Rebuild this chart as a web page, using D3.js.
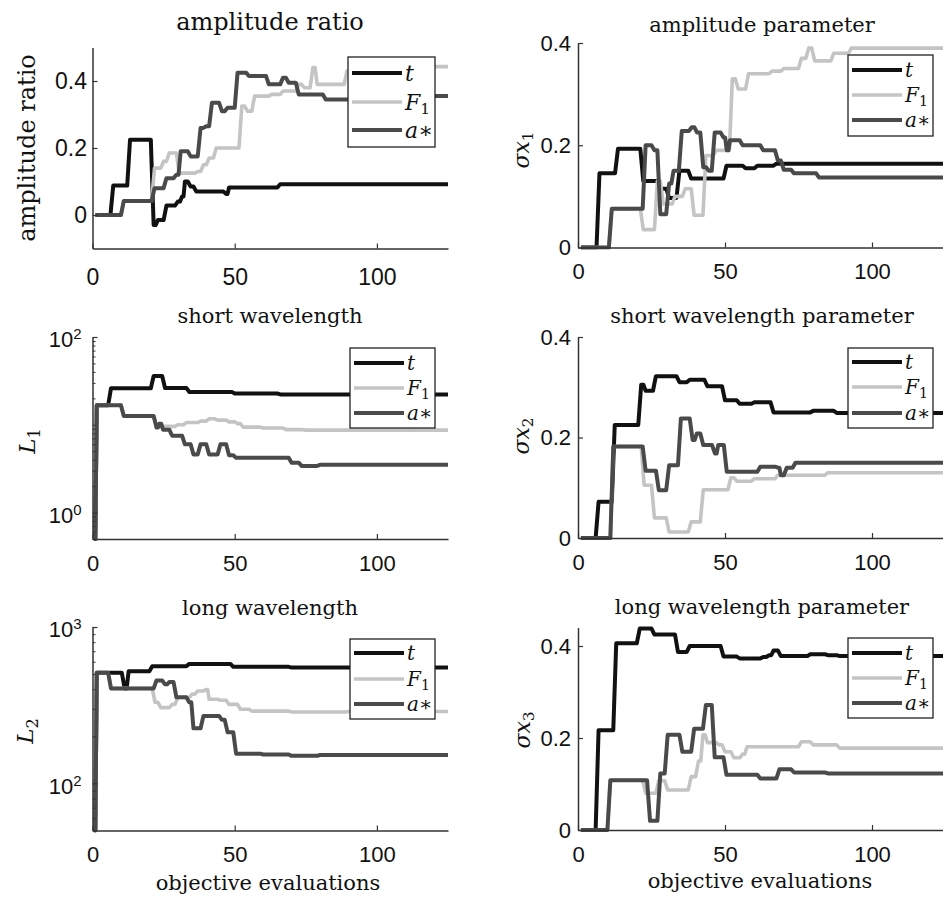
<!DOCTYPE html>
<html><head><meta charset="utf-8">
<script src="https://cdn.jsdelivr.net/npm/d3@7"></script>
<style>body{margin:0;background:#fff;} svg{display:block;}</style>
</head><body>
<svg id="chart" width="943" height="898"></svg>
<script>
// ---------- data ----------
const xTicks = [0, 50, 100];
const seriesNames = ["t", "F1", "a*"];

// amplitude ratio
const ampRatio_t  = [[1,0],[7.3,0.088],[13.2,0.225],[21.5,-0.03],[23,-0.015],[26,0.028],[30,0.04],[31.5,0.055],[32.5,0.1],[34.5,0.085],[36.5,0.07],[47,0.063],[48,0.082],[66,0.092]];
const ampRatio_F1 = [[1,0],[11,0.042],[21.8,0.14],[25,0.16],[27,0.185],[30.5,0.125],[37,0.13],[39,0.15],[41,0.17],[43.5,0.2],[52.5,0.325],[54.5,0.31],[57,0.355],[63,0.36],[67,0.37],[72.5,0.39],[74.5,0.38],[77.5,0.44],[79,0.39],[89.5,0.43],[95,0.443]];
const ampRatio_a  = [[1,0],[11,0.042],[21.8,0.08],[26,0.11],[29.5,0.12],[31,0.19],[34.5,0.175],[38,0.26],[40,0.265],[42,0.335],[45.5,0.31],[47.5,0.32],[51,0.425],[55,0.415],[62,0.39],[67,0.41],[69,0.395],[72.5,0.36],[82,0.345],[95,0.355]];

// amplitude parameter
const ampParam_t  = [[1,0],[7.3,0.145],[13.6,0.193],[22.2,0.13],[28,0.115],[31,0.097],[34.5,0.15],[38.5,0.135],[50.5,0.16],[57,0.155],[61,0.16],[67.5,0.164]];
const ampParam_F1 = [[1,0],[11.5,0.076],[22.2,0.035],[27,0.13],[29,0.085],[33,0.1],[36.5,0.115],[39.5,0.063],[43.5,0.18],[47,0.19],[52.5,0.33],[54.5,0.31],[58,0.34],[66,0.345],[70,0.35],[76,0.37],[78.5,0.39],[80.5,0.365],[87,0.38],[93,0.39]];
const ampParam_a  = [[1,0],[11.5,0.076],[23,0.2],[26,0.19],[28,0.065],[31,0.125],[32.5,0.15],[35.3,0.228],[38.7,0.235],[40.5,0.225],[42.6,0.157],[44.5,0.15],[46.5,0.225],[49.5,0.215],[50.6,0.19],[51.7,0.21],[56,0.2],[63,0.19],[68,0.17],[70,0.152],[73.5,0.145],[82,0.137]];

// short wavelength (log)
const shortL_t  = [[0.5,0.5],[1.5,16.7],[6.5,26],[21.5,36],[25.5,26.3],[34,23.7],[50,22.7],[66,22.2]];
const shortL_F1 = [[0.5,0.5],[1.5,16.7],[11,12.6],[22.5,9.6],[30,10],[33,10.6],[38,11],[41,11.7],[44,11.3],[48,10.8],[51,10.3],[53,9.4],[60,9.2],[68,8.8],[75,8.7]];
const shortL_a  = [[0.5,0.5],[1.5,16.7],[11,12.6],[22.5,9.3],[23.5,10.3],[24.8,8.8],[28,7.5],[32.5,6],[35.5,4.6],[38,6],[41,4.6],[45,6],[48,4.5],[50.5,4.2],[70,3.7],[73.5,3.4],[80,3.5]];

// short wavelength parameter
const shortP_t  = [[1,0],[7,0.072],[12.5,0.225],[21.5,0.305],[23,0.293],[26.5,0.322],[34.5,0.31],[38,0.315],[44,0.302],[50,0.274],[55,0.267],[60,0.27],[66.5,0.25],[80,0.253],[88,0.249]];
const shortP_F1 = [[1,0],[12,0.182],[22.5,0.105],[26,0.04],[31,0.012],[38.5,0.032],[42.6,0.096],[52,0.12],[54,0.113],[60,0.118],[68,0.125],[85,0.13]];
const shortP_a  = [[1,0],[12,0.182],[23,0.134],[27.5,0.095],[31,0.145],[35,0.238],[39,0.195],[40.4,0.208],[42.6,0.185],[46.6,0.168],[47.7,0.185],[50.6,0.132],[62,0.142],[68,0.14],[69,0.125],[71,0.14],[74,0.15]];

// long wavelength (log)
const longL_t  = [[0.5,50],[1.5,510],[11.3,405],[12.7,522],[21,561],[34,581],[49.5,556],[70,550]];
const longL_F1 = [[0.5,50],[1.5,510],[6.5,405],[22,330],[24,305],[28,320],[30,354],[35,372],[37,390],[40,398],[41,345],[45,340],[48,320],[52,298],[56,290],[70,286],[90,288]];
const longL_a  = [[0.5,50],[1.5,510],[6.5,405],[22.5,455],[25.5,430],[27,445],[29.5,355],[34,330],[35.5,225],[39,270],[45.5,255],[47.5,212],[50.5,155],[60,153],[70,150],[80,152]];

// long wavelength parameter
const longP_t  = [[1,0],[7,0.217],[13,0.406],[21,0.438],[26,0.425],[34,0.387],[38,0.4],[49.5,0.377],[55,0.373],[63,0.376],[65,0.38],[66.5,0.39],[69,0.378],[79,0.382],[85,0.38],[89,0.378]];
const longP_F1 = [[1,0],[11,0.108],[23,0.08],[27.5,0.107],[30.5,0.087],[38.5,0.116],[41,0.15],[42.5,0.207],[44,0.19],[48,0.185],[50,0.17],[53,0.157],[56,0.165],[57.5,0.181],[76,0.192],[80,0.185],[89,0.178]];
const longP_a  = [[1,0],[11,0.108],[24.5,0.02],[28,0.123],[30.5,0.207],[35.5,0.17],[39.5,0.22],[43.5,0.272],[46.5,0.158],[50.5,0.12],[62,0.112],[68.5,0.132],[73.5,0.125],[85,0.123]];

// ---------- layout ----------
const colors = ["#111111", "#c4c4c4", "#4a4a4a"];
const widths = [4, 3.6, 4];
const serif = "'DejaVu Serif', serif";
const sans = "'Liberation Sans', Arial, sans-serif";

const panels = [
  {title:"amplitude ratio", series:[ampRatio_t, ampRatio_F1, ampRatio_a], log:false, ydom:[-0.1,0.5], yticks:[0,0.2,0.4],
   xr:[92.5,448], yr:[248.5,47.5], tx:270, ty:30, tfs:24, ylab:{kind:"text", text:"amplitude ratio", x:27, y:148, fs:24},
   leg:{x:348, y:57, w:87, h:90, e:[16,45,73], fs:22}, xpad:20, ypad:5.5, tickfs:23},
  {title:"amplitude parameter", series:[ampParam_t, ampParam_F1, ampParam_a], log:false, ydom:[0,0.4], yticks:[0,0.2,0.4],
   xr:[578,945.5], yr:[247.5,43], tx:762, ty:32, tfs:21, ylab:{kind:"sigma", sub:"1", x:521, y:150, fs:22},
   leg:{x:848, y:55, w:85, h:81, e:[15,40,65], fs:20}, xpad:16, ypad:7, tickfs:22},
  {title:"short wavelength", series:[shortL_t, shortL_F1, shortL_a], log:true, ydom:[0.5,100], yticks:[1,100], yexp:[0,2],
   xr:[92.5,448], yr:[539,337], tx:270, ty:323, tfs:21, ylab:{kind:"L", sub:"1", x:27, y:441, fs:23},
   leg:{x:350, y:348, w:85, h:80, e:[15,40,65], fs:20}, xpad:16, ypad:10, tickfs:22},
  {title:"short wavelength parameter", series:[shortP_t, shortP_F1, shortP_a], log:false, ydom:[0,0.4], yticks:[0,0.2,0.4],
   xr:[578,945.5], yr:[538,337], tx:762, ty:323, tfs:21, ylab:{kind:"sigma", sub:"2", x:521, y:436, fs:22},
   leg:{x:848, y:348, w:85, h:80, e:[14,39,65], fs:20}, xpad:16, ypad:7, tickfs:22},
  {title:"long wavelength", series:[longL_t, longL_F1, longL_a], log:true, ydom:[50,1000], yticks:[100,1000], yexp:[2,3],
   xr:[92.5,448], yr:[830.5,627], tx:270, ty:615, tfs:21, ylab:{kind:"L", sub:"2", x:25, y:731, fs:23},
   leg:{x:350, y:639, w:85, h:80, e:[14,40,65], fs:20}, xpad:16, ypad:10, tickfs:22, xlab:{x:268, y:890}},
  {title:"long wavelength parameter", series:[longP_t, longP_F1, longP_a], log:false, ydom:[0,0.44], yticks:[0,0.2,0.4],
   xr:[578,945.5], yr:[830,627.6], tx:762, ty:614, tfs:21, ylab:{kind:"sigma", sub:"3", x:522, y:730, fs:22},
   leg:{x:848, y:638, w:85, h:80, e:[15,40,65], fs:20}, xpad:16, ypad:7, tickfs:22, xlab:{x:760, y:888}}
];

const svg = d3.select("#chart");
svg.append("rect").attr("width",943).attr("height",898).attr("fill","#fff");

function expandSteps(bp, xEnd) {
  const out = [];
  bp.forEach((p, i) => {
    if (i > 0) {
      const r = Math.min(1, (p[0] - bp[i-1][0]) * 0.5);
      out.push([p[0] - r, bp[i-1][1]]);
    }
    out.push(p);
  });
  out.push([xEnd, bp[bp.length-1][1]]);
  return out;
}

panels.forEach((P, pi) => {
  const g = svg.append("g");
  const x = d3.scaleLinear().domain([0,125]).range(P.xr);
  const y = (P.log ? d3.scaleLog() : d3.scaleLinear()).domain(P.ydom).range(P.yr);

  // clip
  const cid = "clip" + pi;
  svg.append("clipPath").attr("id", cid).append("rect")
    .attr("x", P.xr[0]).attr("y", P.yr[1] - 4).attr("width", P.xr[1]-P.xr[0]).attr("height", P.yr[0]-P.yr[1] + 6);

  // series lines
  const line = d3.line().x(d => x(d[0])).y(d => y(d[1])).curve(d3.curveLinear);
  P.series.forEach((s, si) => {
    g.append("path").attr("d", line(expandSteps(s, 125)))
      .attr("fill","none").attr("stroke", colors[si]).attr("stroke-width", widths[si])
      .attr("stroke-linejoin","round").attr("stroke-linecap","butt")
      .attr("clip-path", `url(#${cid})`);
  });

  // x axis
  const ax = g.append("g").attr("transform", `translate(0,${P.yr[0]})`)
    .call(d3.axisBottom(x).tickValues(xTicks).tickSizeInner(-5).tickSizeOuter(0).tickPadding(P.xpad).tickFormat(d3.format("d")));
  ax.select(".domain").attr("stroke","#333").attr("stroke-width",1.5);
  ax.selectAll(".tick line").attr("stroke","#333").attr("stroke-width",1.2);
  ax.selectAll("text").attr("font-family", sans).attr("font-size", P.tickfs).attr("fill","#111");

  // y axis
  const yaxis = d3.axisLeft(y).tickValues(P.yticks).tickSizeInner(-5).tickSizeOuter(0).tickPadding(P.ypad)
    .tickFormat(d => P.log ? "" : (d === 0 ? "0" : d3.format(".1f")(d)));
  const ay = g.append("g").attr("transform", `translate(${P.xr[0]},0)`).call(yaxis);
  ay.select(".domain").attr("stroke","#333").attr("stroke-width",1.5);
  ay.selectAll(".tick line").attr("stroke","#333").attr("stroke-width",1.2);
  ay.selectAll("text").attr("font-family", sans).attr("font-size", P.tickfs).attr("fill","#111");
  if (P.log) {
    ay.selectAll(".tick text").each(function(d, i) {
      const t = d3.select(this).attr("dy", "0.45em").attr("x", -P.ypad - 1);
      t.append("tspan").text("10");
      t.append("tspan").attr("dy","-0.55em").attr("font-size", P.tickfs*0.68).text(String(P.yexp[i]));
    });
    const minors = y.ticks().filter(v => P.yticks.indexOf(v) < 0);
    const am = g.append("g").attr("transform", `translate(${P.xr[0]},0)`)
      .call(d3.axisLeft(y).tickValues(minors).tickSizeInner(-3).tickSizeOuter(0).tickFormat(""));
    am.select(".domain").remove();
    am.selectAll(".tick line").attr("stroke","#333").attr("stroke-width",1);
  }

  // title
  g.append("text").attr("x", P.tx).attr("y", P.ty).attr("text-anchor","middle")
    .attr("font-family", serif).attr("font-size", P.tfs).attr("fill","#111").text(P.title);

  // y label
  const L = P.ylab;
  const yl = g.append("text").attr("transform", `translate(${L.x},${L.y}) rotate(-90)`)
    .attr("text-anchor","middle").attr("dy","0.35em")
    .attr("font-family", serif).attr("font-size", L.fs).attr("fill","#111");
  if (L.kind === "text") {
    yl.text(L.text);
  } else {
    yl.append("tspan").attr("font-style","italic").text(L.kind === "sigma" ? "σx" : "L");
    yl.append("tspan").attr("font-size", L.fs*0.7).attr("dy","0.3em").text(L.sub);
  }

  // x label
  if (P.xlab) {
    g.append("text").attr("x", P.xlab.x).attr("y", P.xlab.y).attr("text-anchor","middle")
      .attr("font-family", serif).attr("font-size", 21).attr("fill","#111").text("objective evaluations");
  }

  // legend
  const lg = g.append("g").attr("transform", `translate(${P.leg.x},${P.leg.y})`);
  lg.append("rect").attr("width", P.leg.w).attr("height", P.leg.h)
    .attr("fill","#fff").attr("stroke","#222").attr("stroke-width",1.3);
  seriesNames.forEach((nm, si) => {
    const ey = P.leg.e[si];
    lg.append("line").attr("x1",4).attr("x2",54).attr("y1",ey).attr("y2",ey)
      .attr("stroke", colors[si]).attr("stroke-width", widths[si]);
    const tx = lg.append("text").attr("x",57).attr("y",ey).attr("dy","0.35em")
      .attr("font-family", serif).attr("font-size", P.leg.fs).attr("fill","#111");
    if (nm === "t") tx.append("tspan").attr("font-style","italic").text("t");
    else if (nm === "F1") {
      tx.append("tspan").attr("font-style","italic").text("F");
      tx.append("tspan").attr("font-size", P.leg.fs*0.7).attr("dy","0.3em").text("1");
    } else {
      tx.append("tspan").attr("font-style","italic").text("a");
      tx.append("tspan").text("∗");
    }
  });
});
</script>
</body></html>
